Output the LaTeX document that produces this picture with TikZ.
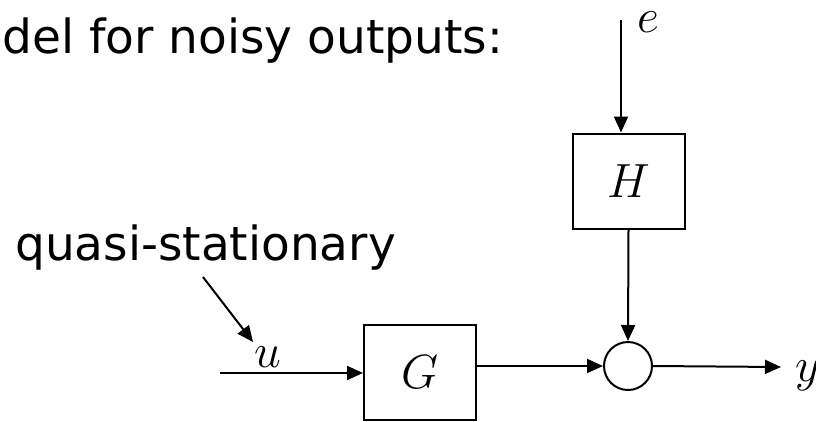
\documentclass[tikz,border=0pt]{standalone}
\usepackage{fix-cm}
\usepackage{fontspec}
\setmainfont{DejaVu Sans}
\usetikzlibrary{arrows.meta}
\begin{document}
\begin{tikzpicture}[x=1pt,y=-1pt,
  blk/.style={draw,line width=2pt,minimum width=112pt,minimum height=95pt,inner sep=0pt,font=\fontsize{48}{58}\selectfont},
  sumnode/.style={draw,circle,line width=2pt,minimum size=48pt,inner sep=0pt},
  sig/.style={line width=2pt,-{Triangle[length=16pt,width=14pt]}},
  lbl/.style={font=\fontsize{48}{58}\selectfont,inner sep=0pt},
  txt/.style={font=\fontsize{47}{56}\selectfont,inner sep=0pt}]
\useasboundingbox (0,0) rectangle (816,421);
\node[blk] (G) at (420,372) {$G$};
\node[blk] (H) at (628.5,181) {$H$};
\node[sumnode] (S) at (628,366) {};
\coordinate (uin) at (220,373);
\coordinate (ein) at (621,20);
\coordinate (yout) at (781,367);
\coordinate (qa) at (203,277);
\coordinate (qb) at (253,342);
\draw[sig] (uin) -- (uin -| G.west);
\draw[sig] (G.east |- S) -- (S.west);
\draw[sig] (H.south) -- (S.north);
\draw[sig] (ein) -- (ein |- H.north);
\draw[sig] (S.east) -- (yout);
\draw[sig] (qa) -- (qb);
\node[lbl,anchor=base west] (ylbl) at (795,381) {$y$};
\node[lbl,anchor=base] (ulbl) at (268,367) {$u$};
\node[lbl,anchor=base] (elbl) at (648,32) {$e$};
\node[txt,anchor=base east] (title) at (503,53) {del for noisy outputs:};
\node[txt,anchor=base west] (qs) at (15,260) {quasi-stationary};
\end{tikzpicture}
\end{document}
